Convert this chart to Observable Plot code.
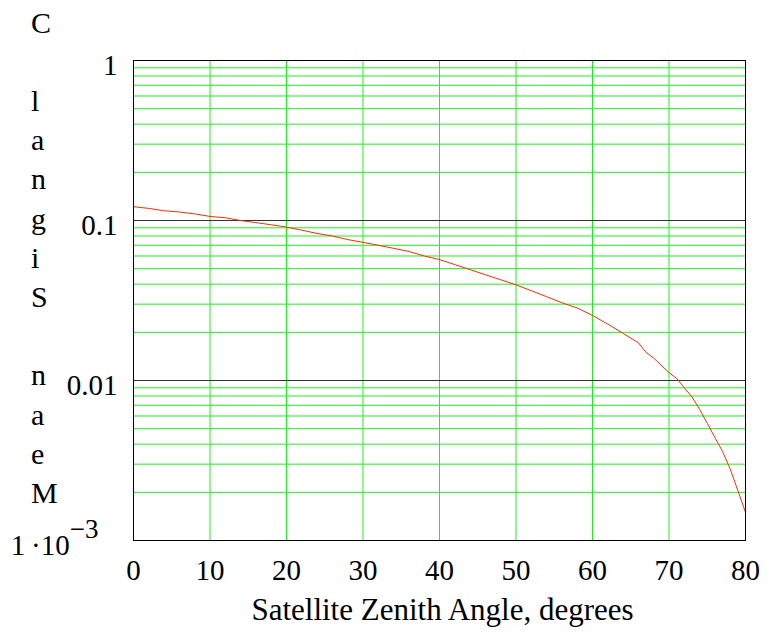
<!DOCTYPE html>
<html>
<head>
<meta charset="utf-8">
<script src="https://cdn.jsdelivr.net/npm/d3@7"></script>
<script src="https://cdn.jsdelivr.net/npm/@observablehq/plot@0.6"></script>
<style>
  html, body { margin: 0; padding: 0; background: white; }
  #chart { width: 767px; height: 633px; }
</style>
</head>
<body>
<div id="chart"></div>
<script>
// ---- data ----
const angles = [0, 2, 4, 6, 8, 10, 12, 14, 16, 18, 20, 22, 24, 26, 28, 30, 32, 34, 36, 38, 40,
  42, 44, 46, 48, 50, 52, 54, 56, 58, 60, 62, 64, 66, 67, 68, 70, 71, 72, 73, 74, 75, 76, 77, 78, 79, 80];
const signal = [0.122, 0.119, 0.115, 0.113, 0.110, 0.106, 0.104, 0.100, 0.097, 0.094, 0.091,
  0.087, 0.083, 0.080, 0.076, 0.073, 0.070, 0.067, 0.064, 0.060, 0.057,
  0.053, 0.0493, 0.0458, 0.0426, 0.0396, 0.0364, 0.0334, 0.0306, 0.0284, 0.0255,
  0.0225, 0.0197, 0.0172, 0.0150, 0.0138, 0.0112, 0.0103, 0.0090, 0.0079, 0.0066,
  0.0054, 0.0044, 0.0036, 0.0028, 0.00205, 0.00150];
const xTicks = [0, 10, 20, 30, 40, 50, 60, 70, 80];
const yTicks = [0.001, 0.01, 0.1, 1];
const yMajorGrid = [0.01, 0.1];
const yMinorGrid = [2,3,4,5,6,7,8,9].flatMap(m => [0.001, 0.01, 0.1].map(d => m * d));
const xLabel = "Satellite Zenith Angle, degrees";
const yLabel = "Mean Signal C";

const data = angles.map((a, i) => ({angle: a, value: signal[i]}));
const font = "'Liberation Serif', 'Times New Roman', serif";

const chart = Plot.plot({
  width: 767,
  height: 633,
  marginLeft: 133,
  marginRight: 22,
  marginTop: 60,
  marginBottom: 93,
  style: {fontFamily: font, fontSize: "29px", background: "white", color: "black"},
  x: {domain: [0, 80]},
  y: {type: "log", domain: [0.001, 1]},
  marks: [
    Plot.ruleY(yMinorGrid, {stroke: "#1ef01e", strokeWidth: 1}),
    Plot.ruleX(xTicks.slice(1), {stroke: "#1ef01e", strokeWidth: 1}),
    Plot.ruleY(yMajorGrid, {stroke: "#333333", strokeWidth: 1}),
    Plot.line(data, {x: "angle", y: "value", stroke: "#ff2a00", strokeWidth: 1}),
    Plot.frame({stroke: "black"}),
    Plot.axisX({ticks: xTicks, tickSize: 0, tickPadding: 19, tickFormat: d => String(d), label: null, fontSize: 29}),
    Plot.axisY({ticks: yTicks, tickSize: 0, tickPadding: 16, dy: 5, label: null, fontSize: 29,
      tickFormat: d => d === 0.001 ? "EXP3" : String(d)}),
    Plot.text([xLabel], {frameAnchor: "bottom", dx: 3, dy: 70, lineAnchor: "middle", fontSize: 31, fill: "black"})
  ]
});

document.getElementById("chart").appendChild(chart);

// format the 1·10^-3 tick label with a superscript
const svg = d3.select(chart);
svg.selectAll("text").each(function() {
  if (this.textContent === "EXP3") {
    const t = d3.select(this);
    t.text("");
    t.append("tspan").attr("dx", -19).text("1\u2009\u00b710");
    t.append("tspan").attr("dy", -17).attr("font-size", 27).text("\u22123");
  }
});

// stacked upright letters for the y axis label (read bottom to top)
const chars = Array.from(yLabel);
const g = svg.append("g").attr("font-family", font).attr("font-size", 30)
  .attr("fill", "black").attr("text-anchor", "start");
chars.forEach((c, i) => {
  if (c === " ") return;
  g.append("text").attr("x", 31).attr("y", 503 - i * 39.2).text(c);
});
</script>
</body>
</html>
